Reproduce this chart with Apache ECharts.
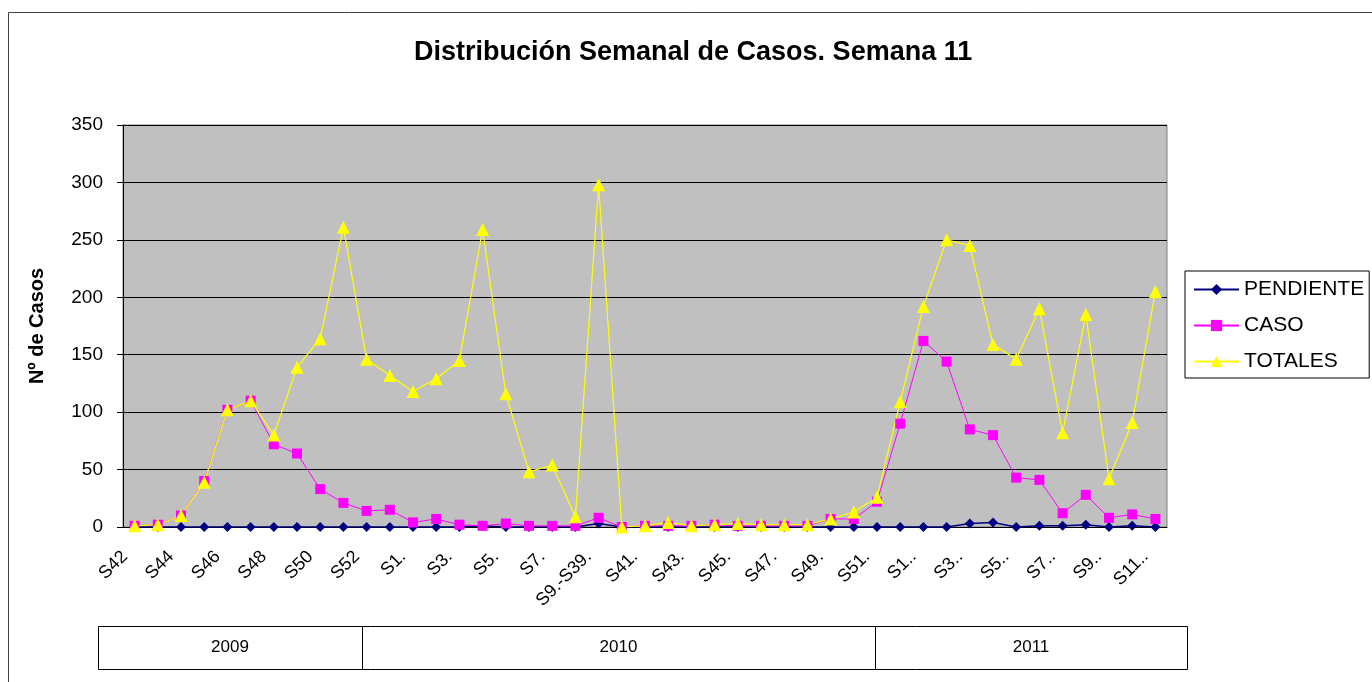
<!DOCTYPE html>
<html>
<head>
<meta charset="utf-8">
<script src="https://cdn.jsdelivr.net/npm/echarts@6/dist/echarts.min.js"></script>
<style>
    html, body { margin: 0; padding: 0; background: #fff; }
    #main { width: 1372px; height: 682px; }
</style>
</head>
<body>
<div id="main"></div>
<script>
    // semanas (2009: S42-S53, 2010: S1.-S52., 2011: S1..-S11..)
    var weeks = ['S42', 'S43', 'S44', 'S45', 'S46', 'S47', 'S48', 'S49', 'S50', 'S51', 'S52', 'S53',
        'S1.', 'S2.', 'S3.', 'S4.', 'S5.', 'S6.', 'S7.', 'S8.', 'S9.-S39.', 'S40.', 'S41.', 'S42.',
        'S43.', 'S44.', 'S45.', 'S46.', 'S47.', 'S48.', 'S49.', 'S50.', 'S51.', 'S52.',
        'S1..', 'S2..', 'S3..', 'S4..', 'S5..', 'S6..', 'S7..', 'S8..', 'S9..', 'S10..', 'S11..'];
    var pendiente = [0, 0, 0, 0, 0, 0, 0, 0, 0, 0, 0, 0,
        0, 0, 0, 1, 0, 0, 0, 0, 3, 0, 0, 0,
        0, 0, 0, 0, 0, 0, 0, 0, 0, 0, 0, 0,
        3, 4, 0, 1, 1, 2, 0, 1, 0];
    var caso = [1, 2, 10, 40, 102, 110, 72, 64, 33, 21, 14, 15,
        4, 7, 2, 1, 3, 1, 1, 1, 8, 0, 1, 1,
        1, 2, 1, 1, 1, 1, 7, 7, 22, 90, 162, 144,
        85, 80, 43, 41, 12, 28, 8, 11, 7];
    var totales = [1, 2, 10, 39, 102, 110, 80, 139, 164, 261, 146, 132,
        118, 129, 145, 259, 116, 48, 54, 9, 298, 0, 1, 4,
        1, 2, 3, 2, 2, 2, 7, 13, 26, 109, 192, 250,
        245, 159, 146, 190, 82, 185, 42, 91, 205];
    var years = ['2009', '2010', '2011'];
    var yTicks = [0, 350, 50]; // min, max, intervalo

    var font = '"Liberation Sans", Arial, sans-serif';
    var myChart = echarts.init(document.getElementById('main'));

    // tabla de años bajo el eje
    var yearBox = { x: 98, y: 626, w: 1089, h: 43, cuts: [98, 362, 875, 1187] };
    var graphics = [{
        type: 'rect',
        shape: { x: 8.5, y: 12.5, width: 1400, height: 700 },
        style: { fill: 'none', stroke: '#404040', lineWidth: 1 },
        z: -10
    }, {
        type: 'rect',
        shape: { x: yearBox.x + 0.5, y: yearBox.y + 0.5, width: yearBox.w, height: yearBox.h },
        style: { fill: '#fff', stroke: '#000', lineWidth: 1 }
    }];
    for (var i = 0; i < years.length; i++) {
        if (i > 0) {
            graphics.push({
                type: 'line',
                shape: { x1: yearBox.cuts[i] + 0.5, y1: yearBox.y, x2: yearBox.cuts[i] + 0.5, y2: yearBox.y + yearBox.h },
                style: { stroke: '#000', lineWidth: 1 }
            });
        }
        graphics.push({
            type: 'text',
            x: (yearBox.cuts[i] + yearBox.cuts[i + 1]) / 2,
            y: yearBox.y + yearBox.h / 2,
            style: {
                text: years[i], fill: '#000', font: '17px ' + font,
                textAlign: 'center', textVerticalAlign: 'middle'
            }
        });
    }

    var option = {
        animation: false,
        backgroundColor: '#fff',
        title: {
            text: 'Distribución Semanal de Casos. Semana 11',
            left: 409,
            top: 34,
            textStyle: { fontFamily: font, fontSize: 27, fontWeight: 'bold', color: '#000' }
        },
        legend: {
            orient: 'vertical',
            left: 1185,
            top: 271,
            padding: [8, 5, 6, 8],
            itemGap: 15,
            itemWidth: 45,
            itemHeight: 14,
            borderColor: '#000',
            borderWidth: 1,
            backgroundColor: '#fff',
            textStyle: { fontFamily: font, fontSize: 21, color: '#000' },
            data: ['PENDIENTE', 'CASO', 'TOTALES']
        },
        grid: {
            left: 123,
            right: 205,
            top: 125,
            bottom: 155,
            show: true,
            backgroundColor: '#C0C0C0',
            borderColor: '#808080',
            borderWidth: 1,
            outerBoundsMode: 'none'
        },
        xAxis: {
            type: 'category',
            data: weeks,
            boundaryGap: true,
            axisLine: { lineStyle: { color: '#000', width: 1 } },
            axisTick: { interval: 0, length: 6, lineStyle: { color: '#000' } },
            axisLabel: {
                interval: 1,
                rotate: 45,
                margin: 17,
                padding: [0, 14, 0, 0],
                fontFamily: font,
                fontSize: 18,
                color: '#000'
            },
            splitLine: { show: false }
        },
        yAxis: {
            type: 'value',
            min: yTicks[0],
            max: yTicks[1],
            interval: yTicks[2],
            name: 'Nº de Casos',
            nameLocation: 'middle',
            nameGap: 76,
            nameRotate: 90,
            nameTextStyle: { fontFamily: font, fontSize: 20, fontWeight: 'bold', color: '#000' },
            axisLine: { show: true, lineStyle: { color: '#000', width: 1 } },
            axisTick: { show: true, length: 6, lineStyle: { color: '#000' } },
            axisLabel: { margin: 20, fontFamily: font, fontSize: 19, color: '#000' },
            splitLine: { show: true, lineStyle: { color: '#000', width: 1 } }
        },
        series: [{
            name: 'PENDIENTE',
            type: 'line',
            data: pendiente,
            symbol: 'diamond',
            symbolSize: 10,
            color: '#000080',
            lineStyle: { color: '#000080', width: 1.5 },
            itemStyle: { color: '#000080' }
        }, {
            name: 'CASO',
            type: 'line',
            data: caso,
            symbol: 'rect',
            symbolSize: 10,
            color: '#FF00FF',
            lineStyle: { color: '#FF00FF', width: 1 },
            itemStyle: { color: '#FF00FF' }
        }, {
            name: 'TOTALES',
            type: 'line',
            data: totales,
            symbol: 'triangle',
            symbolSize: 13,
            color: '#FFFF00',
            lineStyle: { color: '#FFFF00', width: 1.2 },
            itemStyle: { color: '#FFFF00' }
        }],
        graphic: graphics
    };
    myChart.setOption(option);
</script>
</body>
</html>
